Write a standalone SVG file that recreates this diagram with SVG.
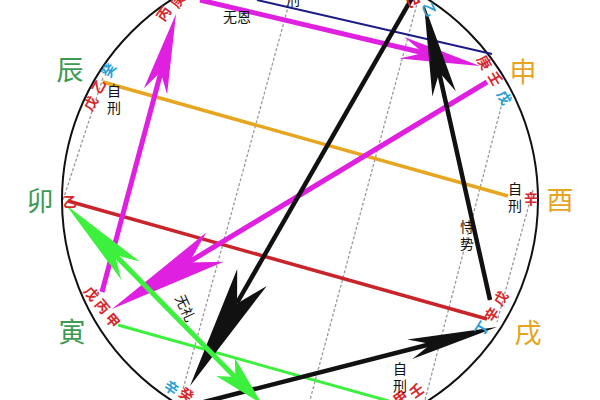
<svg xmlns="http://www.w3.org/2000/svg" width="600" height="400" viewBox="0 0 600 400">
<style>
text{font-family:"Noto Sans CJK SC","Noto Sans",sans-serif;text-anchor:middle;dominant-baseline:central}
.big{font-size:27px}
.g{fill:#3e9a52}
.o{fill:#e6a421}
.s{font-size:14px}
.c{font-weight:bold}
.r{fill:#d8262a}
.b{fill:#2a9fd8}
.k{fill:#111}
.v{writing-mode:vertical-rl;letter-spacing:3px}
.dash{stroke:#9a9a9a;stroke-width:1.3;stroke-dasharray:3 2;fill:none}
.mag{stroke:#e020e0;fill:none;stroke-width:5}
.magh{fill:#e020e0}
.blk{stroke:#111;fill:none;stroke-width:4.5}
.blkh{fill:#111}
.grn{stroke:#3ef03e;fill:none;stroke-width:5}
.grnh{fill:#3ef03e}
</style>
<rect width="600" height="400" fill="#fff"/>
<g id="guides">
<line class="dash" x1="103" y1="78" x2="63" y2="200"/>
<line class="dash" x1="290" y1="0" x2="180" y2="400"/>
<line class="dash" x1="418" y1="0" x2="310" y2="400"/>
<line class="dash" x1="505" y1="92" x2="425" y2="400"/>
<line class="dash" x1="533" y1="190" x2="497" y2="322"/>
</g>
<circle id="ring" cx="300" cy="200" r="238" fill="none" stroke="#111" stroke-width="2"/>
<g id="connectors">
<line x1="257" y1="0" x2="492" y2="54" stroke="#1c1c86" stroke-width="2"/>
<line x1="103" y1="82" x2="508" y2="196" stroke="#e8a520" stroke-width="3.5"/>
<line x1="68" y1="201" x2="487" y2="319" stroke="#c8242a" stroke-width="3.5"/>
<line x1="118" y1="325" x2="410" y2="407" stroke="#3ef03e" stroke-width="3"/>
<line class="mag" x1="102" y1="292" x2="161" y2="72"/>
<polygon class="magh" points="176,14 167.1,94.5 160.6,72 143.9,88.3"/>
<line class="mag" x1="200" y1="0" x2="424" y2="53"/>
<polygon class="magh" points="480,66 399.5,58.4 423.4,53 404.3,37"/>
<line class="mag" x1="487" y1="82" x2="189" y2="262"/>
<polygon class="magh" points="112,309 206.2,232.6 189.2,262.6 223.8,261.8"/>
<line class="blk" x1="412" y1="-2" x2="237" y2="303"/>
<polygon class="blkh" points="190,386 237.2,269.1 237.1,303.5 266.8,285.9"/>
<line class="blk" x1="490" y1="300" x2="439" y2="72"/>
<polygon class="blkh" points="424,4 455.8,91.2 439.3,72.3 432.4,96.4"/>
<line class="blk" x1="200" y1="403" x2="431" y2="344"/>
<polygon class="blkh" points="497,327 407.3,339.6 431.1,343.9 412.3,359"/>
<line class="grn" x1="115" y1="255" x2="235" y2="377"/>
<polygon class="grnh" points="66,205 139.8,261.5 115.1,254.9 121.2,279.7"/>
<polygon class="grnh" points="262,404 234.8,357.8 235.4,376.9 216.2,376"/>
</g>
<g id="node-chen">
<text class="big g" x="70" y="68">辰</text>
<text class="s c b" transform="translate(108,70) rotate(-60)">癸</text>
<text class="s c r" transform="translate(98,86) rotate(-60)">乙</text>
<text class="s c r" transform="translate(90,103) rotate(-60)">戊</text>
<text class="s k v" x="114" y="101">自刑</text>
</g>
<g id="node-mao">
<text class="big g" x="40" y="199">卯</text>
<text class="s c r" x="70" y="201">乙</text>
</g>
<g id="node-yin">
<text class="big g" x="72" y="330">寅</text>
<text class="s c r" transform="translate(92,293) rotate(50)">戊</text>
<text class="s c r" transform="translate(103,306) rotate(50)">丙</text>
<text class="s c r" transform="translate(113,320) rotate(50)">甲</text>
</g>
<g id="node-chou">
<text class="s c b" transform="translate(172,387) rotate(35)">辛</text>
<text class="s c r" transform="translate(187,394) rotate(35)">癸</text>
</g>
<g id="node-hai">
<text class="s c r" transform="translate(400,397) rotate(-35)">甲</text>
<text class="s c r" transform="translate(416,390) rotate(-35)">壬</text>
</g>
<g id="node-xu">
<text class="big o" x="528" y="331">戌</text>
<text class="s c b" transform="translate(481,328) rotate(-58)">丁</text>
<text class="s c r" transform="translate(491,314) rotate(-58)">辛</text>
<text class="s c r" transform="translate(500,298) rotate(-58)">戊</text>
</g>
<g id="node-you">
<text class="big o" x="560" y="198">酉</text>
<text class="s k v" x="515" y="199">自刑</text>
<text class="s c r" x="531" y="198">辛</text>
</g>
<g id="node-shen">
<text class="big o" x="523" y="70">申</text>
<text class="s c r" transform="translate(485,62) rotate(60)">庚</text>
<text class="s c r" transform="translate(496,78) rotate(60)">壬</text>
<text class="s c b" transform="translate(505,97) rotate(60)">戊</text>
</g>
<g id="node-wu">
<text class="s c r" transform="translate(414,0) rotate(65)">己</text>
<text class="s c b" transform="translate(430,9) rotate(65)">乙</text>
</g>
<g id="node-si">
<text class="s c r" transform="translate(163,13) rotate(-55)">丙</text>
<text class="s c r" transform="translate(177,0) rotate(-55)">庚</text>
</g>
<g id="labels">
<text class="s k" x="293" y="-1">刑</text>
<text class="s k" x="237" y="16">无恩</text>
<text class="s k v" x="467" y="237">恃势</text>
<text class="s k" transform="translate(186,308) rotate(65)">无礼</text>
<text class="s k v" x="400" y="379">自刑</text>
</g>
</svg>
